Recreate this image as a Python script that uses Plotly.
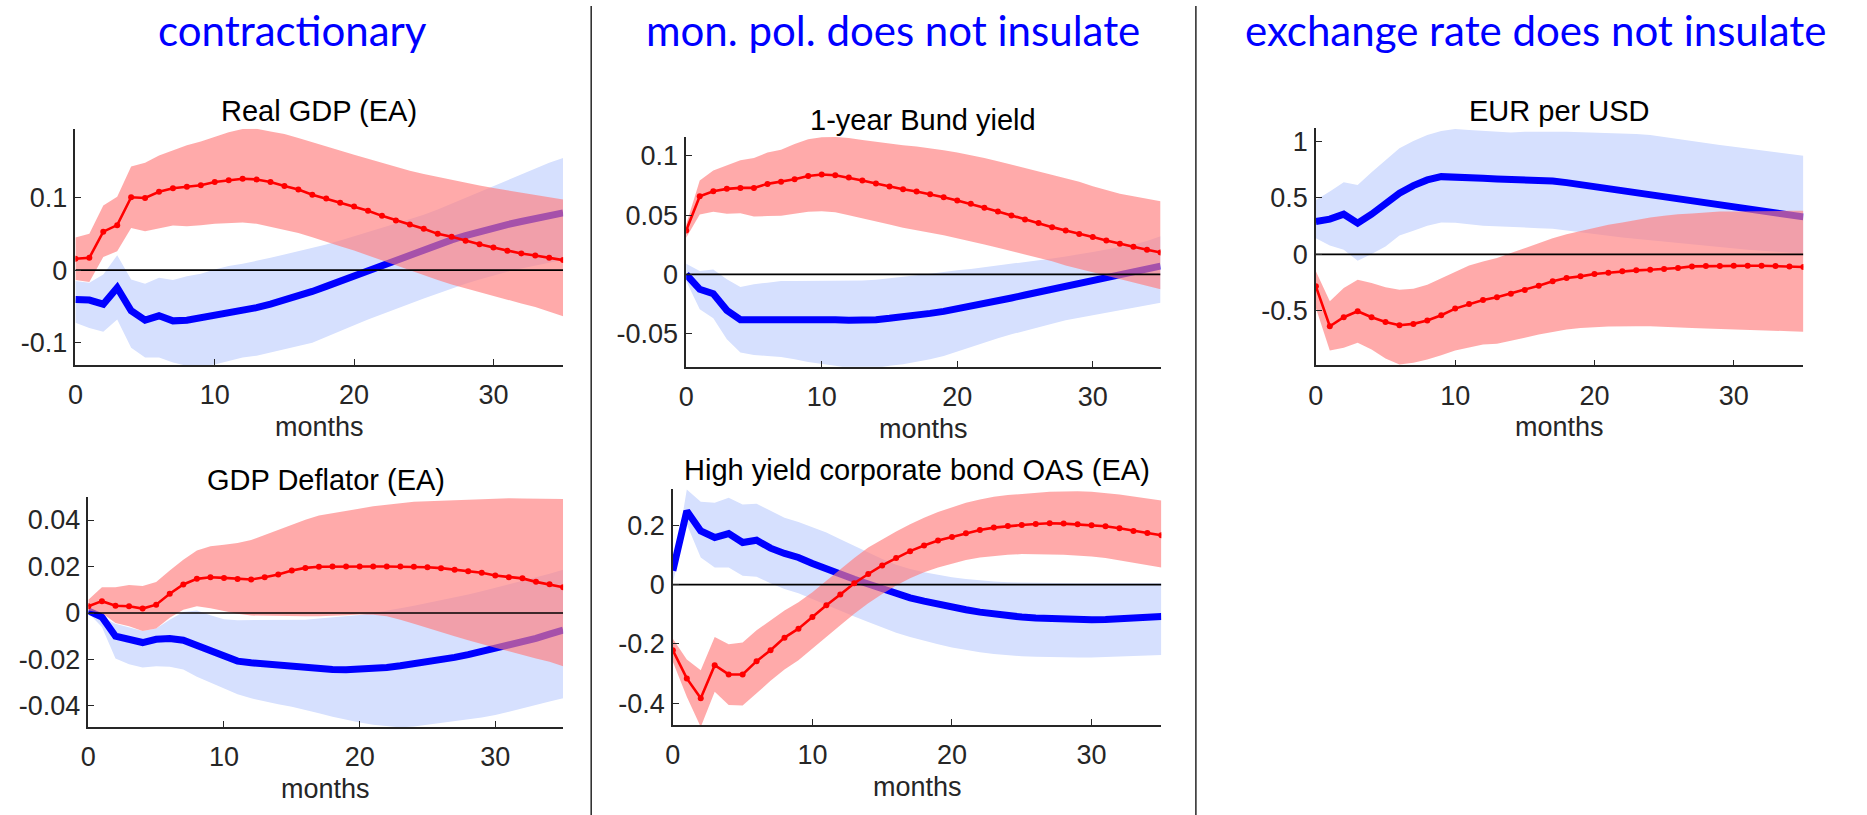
import plotly.graph_objects as go

W, H = 1867, 815
months = list(range(36))

# ---------------- Real GDP (EA) ----------------
gdp_red = [0.0156, 0.017, 0.053, 0.062, 0.1005, 0.0995, 0.108, 0.113, 0.115, 0.117, 0.1216, 0.124,
           0.126, 0.125, 0.1216, 0.116, 0.111, 0.104, 0.0986, 0.093, 0.0876, 0.0817, 0.0748, 0.0683,
           0.0628, 0.0569, 0.05, 0.0459, 0.0404, 0.0358, 0.0312, 0.0266, 0.0229, 0.0202, 0.017, 0.0138]
gdp_red_hi = [0.045, 0.05, 0.089, 0.101, 0.143, 0.148, 0.158, 0.165, 0.172, 0.1775, 0.184, 0.19,
              0.1945, 0.195, 0.191, 0.1876, 0.182, 0.176, 0.1706, 0.1647, 0.159, 0.1537, 0.148, 0.1427,
              0.137, 0.1326, 0.1284, 0.124, 0.120, 0.1165, 0.1133, 0.110, 0.107, 0.104, 0.101, 0.0972]
gdp_red_lo = [-0.0138, -0.0165, 0.018, 0.026, 0.058, 0.0537, 0.0573, 0.0615, 0.0606, 0.062, 0.0638, 0.065,
              0.0656, 0.0638, 0.060, 0.0555, 0.051, 0.0454, 0.0394, 0.033, 0.027, 0.0202, 0.0138, 0.0069,
              0.0005, -0.0069, -0.0138, -0.020, -0.026, -0.031, -0.0358, -0.041, -0.046, -0.051, -0.057, -0.0638]
gdp_blue = [-0.0404, -0.0413, -0.047, -0.0243, -0.056, -0.069, -0.063, -0.070, -0.069, -0.0656, -0.063, -0.060,
            -0.0564, -0.0518, -0.047, -0.0417, -0.0358, -0.0294, -0.0225, -0.0151, -0.0078, -0.0005, 0.0069, 0.0142,
            0.022, 0.0289, 0.0353, 0.0417, 0.0477, 0.0532, 0.0583, 0.0628, 0.067, 0.0711, 0.0748, 0.0789]
gdp_blue_hi = [-0.0151, -0.0174, -0.006, 0.0206, -0.0128, -0.0188, -0.0106, -0.0138, -0.0083, -0.005, 0.0009, 0.0055,
               0.0087, 0.0124, 0.017, 0.0216, 0.026, 0.0307, 0.0353, 0.0408, 0.0463, 0.0523, 0.0583, 0.0642,
               0.0697, 0.0762, 0.0835, 0.0915, 0.0995, 0.1078, 0.1156, 0.124, 0.132, 0.140, 0.148, 0.1546]
gdp_blue_lo = [-0.0725, -0.080, -0.0849, -0.068, -0.107, -0.1206, -0.1206, -0.1275, -0.132, -0.133, -0.13, -0.125,
               -0.1206, -0.118, -0.1138, -0.109, -0.1046, -0.100, -0.0922, -0.084, -0.076, -0.068, -0.060, -0.0532,
               -0.0463, -0.039, -0.0317, -0.0252, -0.0188, -0.0128, -0.0073, -0.0023, 0.0023, 0.0064, 0.0101, 0.0138]

# ---------------- GDP Deflator (EA) ----------------
defl_red = [0.0029, 0.0051, 0.0031, 0.0029, 0.0019, 0.0036, 0.0083, 0.0123, 0.0147, 0.0154, 0.0151, 0.0146,
            0.0144, 0.0154, 0.0166, 0.0183, 0.0194, 0.0199, 0.020, 0.020, 0.020, 0.020, 0.020, 0.020,
            0.0199, 0.0197, 0.0193, 0.0186, 0.018, 0.0173, 0.0161, 0.0154, 0.0149, 0.0134, 0.0124, 0.0111]
defl_red_hi = [0.0057, 0.0111, 0.0111, 0.0121, 0.0116, 0.0133, 0.0183, 0.0229, 0.0269, 0.0287, 0.0294, 0.0301,
               0.0314, 0.0336, 0.0357, 0.0379, 0.0401, 0.0419, 0.0429, 0.044, 0.045, 0.0459, 0.0466, 0.0474,
               0.0479, 0.0481, 0.0483, 0.0486, 0.0489, 0.049, 0.049, 0.0494, 0.0493, 0.0492, 0.0492, 0.049]
defl_red_lo = [0.0011, 0.0, -0.0043, -0.0057, -0.0077, -0.0067, -0.002, 0.0014, 0.0029, 0.0021, 0.0009, -0.0003,
               -0.0011, -0.0014, -0.0014, -0.0014, -0.0014, -0.0014, -0.0013, -0.001, -0.0006, -0.0007, -0.0014, -0.0029,
               -0.0046, -0.0064, -0.0081, -0.010, -0.0117, -0.0134, -0.0149, -0.0164, -0.0179, -0.0196, -0.021, -0.0229]
defl_blue = [0.0009, -0.0017, -0.010, -0.0117, -0.0127, -0.0113, -0.011, -0.0117, -0.0139, -0.0167, -0.0189, -0.0207,
             -0.0214, -0.022, -0.0224, -0.0229, -0.0233, -0.0239, -0.0243, -0.0244, -0.0243, -0.024, -0.0234, -0.0227,
             -0.0219, -0.021, -0.0201, -0.0191, -0.0179, -0.0166, -0.0153, -0.0139, -0.0124, -0.0109, -0.0091, -0.0074]
defl_blue_hi = [0.0019, -0.0017, -0.0046, -0.006, -0.0077, -0.0067, -0.0029, 0.0004, 0.0011, -0.001, -0.0027, -0.0031,
                -0.0031, -0.0031, -0.0031, -0.0031, -0.0029, -0.0024, -0.002, -0.0014, -0.0009, 0.0, 0.0009, 0.002,
                0.0031, 0.0043, 0.0054, 0.0066, 0.008, 0.0094, 0.0109, 0.0123, 0.0137, 0.0151, 0.0169, 0.0186]
defl_blue_lo = [0.0, -0.006, -0.0196, -0.022, -0.0234, -0.0229, -0.0231, -0.0243, -0.0274, -0.030, -0.0324, -0.0349,
                -0.0367, -0.0381, -0.0393, -0.0403, -0.0417, -0.0431, -0.0446, -0.046, -0.0471, -0.0481, -0.0486, -0.0492,
                -0.0488, -0.0481, -0.0474, -0.0467, -0.0457, -0.0449, -0.0439, -0.0424, -0.041, -0.0396, -0.0381, -0.0367]

# ---------------- 1-year Bund yield ----------------
bund_red = [0.0371, 0.066, 0.0702, 0.0722, 0.073, 0.073, 0.0764, 0.0781, 0.0803, 0.0831, 0.0843, 0.0837,
            0.0817, 0.0792, 0.0767, 0.0742, 0.0719, 0.0699, 0.0677, 0.0652, 0.0624, 0.0596, 0.0562, 0.0531,
            0.0497, 0.0463, 0.0433, 0.0399, 0.0371, 0.034, 0.0315, 0.0287, 0.0258, 0.0233, 0.0208, 0.0185]
bund_red_hi = [0.0421, 0.0792, 0.0876, 0.0921, 0.0963, 0.0983, 0.1028, 0.1053, 0.1101, 0.114, 0.1157, 0.116,
               0.1152, 0.1135, 0.1118, 0.1101, 0.109, 0.1079, 0.1065, 0.1048, 0.1028, 0.1006, 0.0983, 0.0955,
               0.0927, 0.0899, 0.0871, 0.0843, 0.0815, 0.0781, 0.0744, 0.0711, 0.068, 0.066, 0.064, 0.0618]
bund_red_lo = [0.0309, 0.0506, 0.0528, 0.0511, 0.0517, 0.0489, 0.0492, 0.0494, 0.0511, 0.0528, 0.0534, 0.0525,
               0.050, 0.0478, 0.0449, 0.0421, 0.0393, 0.0371, 0.0351, 0.0331, 0.0309, 0.0281, 0.0253, 0.0225,
               0.0197, 0.0169, 0.014, 0.011, 0.0076, 0.0045, 0.0014, -0.0014, -0.0042, -0.007, -0.0098, -0.0126]
bund_blue = [0.0, -0.0126, -0.0163, -0.0303, -0.0382, -0.0382, -0.0371, -0.0371, -0.0371, -0.0376, -0.0382, -0.0382,
             -0.0388, -0.0388, -0.0382, -0.0371, -0.036, -0.0346, -0.0329, -0.0312, -0.0292, -0.027, -0.0247, -0.0225,
             -0.0199, -0.0174, -0.0149, -0.0126, -0.0104, -0.0079, -0.0051, -0.0022, 0.0006, 0.0028, 0.0048, 0.007]
bund_blue_hi = [0.009, 0.0028, 0.0042, -0.0042, -0.0107, -0.0084, -0.007, -0.0056, -0.0056, -0.0056, -0.0056, -0.0056,
                -0.0056, -0.0051, -0.0045, -0.0034, -0.0022, -0.0008, 0.0006, 0.0022, 0.0034, 0.0045, 0.0059, 0.0073,
                0.0087, 0.0101, 0.0118, 0.0135, 0.0152, 0.0169, 0.0188, 0.0211, 0.023, 0.0253, 0.0281, 0.0323]
bund_blue_lo = [-0.0056, -0.0295, -0.0371, -0.0548, -0.066, -0.068, -0.0688, -0.0697, -0.0716, -0.0739, -0.0758, -0.0772,
                -0.079, -0.0795, -0.079, -0.0772, -0.0758, -0.0739, -0.0716, -0.0688, -0.0652, -0.0612, -0.0576, -0.0539,
                -0.0506, -0.0472, -0.0444, -0.0416, -0.0388, -0.0365, -0.0343, -0.0323, -0.0303, -0.0281, -0.0258, -0.0239]

# ---------------- High yield corporate bond OAS (EA) ----------------
hy_red = [-0.2212, -0.3162, -0.3832, -0.2715, -0.3028, -0.3028, -0.2581, -0.2212, -0.1788, -0.1486, -0.1095, -0.0693,
          -0.0335, 0.0045, 0.0358, 0.0648, 0.0894, 0.1128, 0.1318, 0.1486, 0.1609, 0.1732, 0.1844, 0.1922,
          0.1978, 0.2011, 0.2045, 0.2067, 0.2056, 0.2034, 0.200, 0.1966, 0.1899, 0.181, 0.1743, 0.1665]
hy_red_hi = [-0.1821, -0.2525, -0.2883, -0.1765, -0.2011, -0.1955, -0.1542, -0.1207, -0.0872, -0.0592, -0.0257, 0.0134,
             0.0525, 0.0894, 0.1251, 0.1531, 0.1788, 0.2034, 0.2257, 0.2447, 0.2615, 0.276, 0.2872, 0.2961,
             0.3017, 0.3061, 0.3095, 0.3128, 0.314, 0.3151, 0.3128, 0.3095, 0.3039, 0.2972, 0.2905, 0.2838]
hy_red_lo = [-0.2603, -0.3777, -0.48, -0.3609, -0.4056, -0.4078, -0.3665, -0.324, -0.286, -0.2547, -0.2156, -0.1765,
             -0.1374, -0.0983, -0.0626, -0.0313, -0.0034, 0.0212, 0.0413, 0.0581, 0.0715, 0.0827, 0.0916, 0.0972,
             0.1006, 0.1028, 0.1028, 0.1017, 0.1006, 0.0983, 0.095, 0.0894, 0.0827, 0.0749, 0.0659, 0.0581]
hy_blue = [0.0469, 0.248, 0.181, 0.1587, 0.1721, 0.1419, 0.1497, 0.1229, 0.105, 0.0916, 0.0715, 0.0525,
           0.0358, 0.0179, 0.0022, -0.0145, -0.0313, -0.0447, -0.0559, -0.067, -0.076, -0.0849, -0.0927, -0.0994,
           -0.105, -0.1095, -0.1128, -0.1151, -0.1173, -0.1184, -0.1184, -0.1173, -0.1162, -0.114, -0.1117, -0.1073]
hy_blue_hi = [0.0358, 0.3207, 0.2793, 0.276, 0.2927, 0.2704, 0.2726, 0.248, 0.2257, 0.2112, 0.1944, 0.1754,
              0.1531, 0.1307, 0.1084, 0.086, 0.067, 0.0525, 0.0413, 0.0324, 0.0246, 0.019, 0.0134, 0.0101,
              0.0078, 0.0067, 0.0056, 0.0056, 0.0045, 0.0045, 0.0045, 0.0045, 0.0045, 0.0045, 0.0045, 0.0045]
hy_blue_lo = [0.0078, 0.2034, 0.0916, 0.0581, 0.0581, 0.0302, 0.0268, 0.0045, -0.0145, -0.0291, -0.048, -0.067,
              -0.0872, -0.1073, -0.1263, -0.1453, -0.162, -0.1765, -0.190, -0.2011, -0.2123, -0.2212, -0.2279, -0.2335,
              -0.238, -0.2413, -0.2436, -0.2447, -0.2458, -0.2458, -0.2458, -0.2447, -0.2436, -0.2413, -0.2391, -0.2369]

# ---------------- EUR per USD ----------------
fx_red = [-0.2824, -0.6353, -0.5559, -0.5029, -0.5559, -0.5971, -0.6265, -0.6147, -0.5853, -0.5382, -0.4794, -0.4382,
          -0.4029, -0.3794, -0.3471, -0.3147, -0.2765, -0.2382, -0.2088, -0.1941, -0.1735, -0.1618, -0.150, -0.1412,
          -0.1353, -0.1294, -0.1206, -0.1059, -0.1029, -0.1029, -0.100, -0.100, -0.100, -0.1029, -0.1059, -0.1118]
fx_red_hi = [-0.150, -0.4147, -0.2971, -0.2235, -0.2529, -0.2912, -0.3118, -0.3029, -0.2676, -0.2088, -0.150, -0.0971,
             -0.0618, -0.0324, 0.0118, 0.0559, 0.100, 0.1441, 0.1794, 0.2088, 0.2382, 0.2618, 0.2824, 0.3059,
             0.3265, 0.3412, 0.3559, 0.3618, 0.3706, 0.3794, 0.3794, 0.3824, 0.3853, 0.3853, 0.3853, 0.3853]
fx_red_lo = [-0.4735, -0.850, -0.8265, -0.7824, -0.8412, -0.9206, -0.9735, -0.9588, -0.9294, -0.8912, -0.850, -0.8206,
             -0.7971, -0.7912, -0.7676, -0.7382, -0.7088, -0.6853, -0.6647, -0.650, -0.6441, -0.6382, -0.6353, -0.6353,
             -0.6353, -0.6382, -0.6441, -0.650, -0.6559, -0.6618, -0.6647, -0.6676, -0.6735, -0.6765, -0.6794, -0.6853]
fx_blue = [0.2912, 0.3118, 0.3559, 0.2765, 0.3559, 0.4441, 0.5412, 0.6088, 0.6588, 0.6882, 0.6882, 0.6824,
           0.6735, 0.6676, 0.6647, 0.6588, 0.6529, 0.650, 0.6353, 0.6176, 0.6029, 0.5882, 0.5706, 0.550,
           0.5324, 0.5147, 0.4971, 0.4765, 0.4559, 0.4353, 0.4176, 0.4088, 0.3971, 0.3794, 0.3559, 0.3324]
fx_blue_hi = [0.4824, 0.5559, 0.6382, 0.6147, 0.7265, 0.8353, 0.9382, 1.0029, 1.0559, 1.0912, 1.1088, 1.100,
              1.0912, 1.0853, 1.0794, 1.0853, 1.0882, 1.0853, 1.0853, 1.0824, 1.0794, 1.0735, 1.0706, 1.0647,
              1.0559, 1.0412, 1.0206, 1.0029, 0.9824, 0.9676, 0.9529, 0.9382, 0.9235, 0.9088, 0.8882, 0.8735]
fx_blue_lo = [0.1441, 0.0794, 0.0412, -0.0559, 0.0029, 0.0706, 0.1676, 0.2088, 0.2529, 0.2824, 0.2794, 0.2676,
              0.2529, 0.2441, 0.2412, 0.2382, 0.2324, 0.2265, 0.2147, 0.1971, 0.1794, 0.1647, 0.150, 0.1353,
              0.1206, 0.1088, 0.0971, 0.0853, 0.0735, 0.0618, 0.0529, 0.0412, 0.0324, 0.0235, 0.0147, 0.0088]

titles = ["Real GDP (EA)", "GDP Deflator (EA)", "1-year Bund yield",
          "High yield corporate bond OAS (EA)", "EUR per USD"]
headers = ["contractionary", "mon. pol. does not insulate", "exchange rate does not insulate"]
x_ticks = [0, 10, 20, 30]
y_ticks = [[-0.1, 0, 0.1], [-0.04, -0.02, 0, 0.02, 0.04], [-0.05, 0, 0.05, 0.1],
           [-0.4, -0.2, 0, 0.2], [-0.5, 0, 0.5, 1]]
y_tick_text = [["-0.1", "0", "0.1"], ["-0.04", "-0.02", "0", "0.02", "0.04"],
               ["-0.05", "0", "0.05", "0.1"], ["-0.4", "-0.2", "0", "0.2"], ["-0.5", "0", "0.5", "1"]]
y_ranges = [[-0.131, 0.195], [-0.049, 0.050], [-0.078, 0.116], [-0.474, 0.324], [-0.982, 1.115]]

panels = [
    (gdp_red, gdp_red_lo, gdp_red_hi, gdp_blue, gdp_blue_lo, gdp_blue_hi),
    (defl_red, defl_red_lo, defl_red_hi, defl_blue, defl_blue_lo, defl_blue_hi),
    (bund_red, bund_red_lo, bund_red_hi, bund_blue, bund_blue_lo, bund_blue_hi),
    (hy_red, hy_red_lo, hy_red_hi, hy_blue, hy_blue_lo, hy_blue_hi),
    (fx_red, fx_red_lo, fx_red_hi, fx_blue, fx_blue_lo, fx_blue_hi),
]

# layout boxes in pixels: (left, right, top, bottom)
boxes = [(67.7, 557.5, 127, 364), (80.7, 557.5, 496, 726.7), (681.1, 1157.5, 135.3, 365.7),
         (667.7, 1158.3, 487.7, 725), (1313.5, 1803.1, 126.7, 364.3)]
title_y = [109, 479, 118.5, 469.5, 109]
months_y = [426, 789, 428, 787, 426]


def px(x):
    return x / W


def py(y):
    return 1 - y / H


RED = "#FF0000"
BLUE = "#0000FF"
RED_BAND = "rgba(255,125,125,0.65)"
BLUE_BAND = "#D6E0FE"
AX = "#262626"
FONT = "Liberation Sans, Arial, sans-serif"
TICKFONT = dict(family=FONT, size=27, color=AX)

fig = go.Figure()
layout = dict(width=W, height=H, margin=dict(l=0, r=0, t=0, b=0),
              paper_bgcolor="white", plot_bgcolor="white", showlegend=False)
annotations = []

for i, (data, box) in enumerate(zip(panels, boxes)):
    red, red_lo, red_hi, blue, blue_lo, blue_hi = data
    n = i + 1
    xa = "x" if n == 1 else f"x{n}"
    ya = "y" if n == 1 else f"y{n}"
    l, r, t, b = box
    fig.add_trace(go.Scatter(x=months + months[::-1], y=blue_hi + blue_lo[::-1], fill="toself",
                             fillcolor=BLUE_BAND, line=dict(width=0), mode="lines",
                             hoverinfo="skip", xaxis=xa, yaxis=ya))
    fig.add_trace(go.Scatter(x=months, y=blue, mode="lines", line=dict(color=BLUE, width=7),
                             xaxis=xa, yaxis=ya))
    fig.add_trace(go.Scatter(x=months + months[::-1], y=red_hi + red_lo[::-1], fill="toself",
                             fillcolor=RED_BAND, line=dict(width=0), mode="lines",
                             hoverinfo="skip", xaxis=xa, yaxis=ya))
    fig.add_trace(go.Scatter(x=[months[0], months[-1]], y=[0, 0], mode="lines",
                             line=dict(color="black", width=1.6), xaxis=xa, yaxis=ya))
    fig.add_trace(go.Scatter(x=months, y=red, mode="lines+markers",
                             line=dict(color=RED, width=2.6), marker=dict(color=RED, size=6),
                             xaxis=xa, yaxis=ya))

    xkey = "xaxis" if n == 1 else f"xaxis{n}"
    ykey = "yaxis" if n == 1 else f"yaxis{n}"
    layout[xkey] = dict(domain=[px(l), px(r)], anchor=ya, range=[0, 35], tickvals=x_ticks,
                        ticktext=[str(v) for v in x_ticks], showgrid=False, zeroline=False,
                        showline=True, linecolor=AX, linewidth=1.5, ticks="inside", ticklen=6,
                        tickwidth=1.3, tickcolor=AX, tickfont=TICKFONT, ticklabelstandoff=5)
    layout[ykey] = dict(domain=[py(b), py(t)], anchor=xa, range=y_ranges[i], tickvals=y_ticks[i],
                        ticktext=y_tick_text[i], showgrid=False, zeroline=False,
                        showline=True, linecolor=AX, linewidth=1.5, ticks="inside", ticklen=6,
                        tickwidth=1.3, tickcolor=AX, tickfont=TICKFONT, ticklabelstandoff=1)
    annotations.append(dict(text=titles[i], x=px((l + r) / 2), y=py(title_y[i]), xref="paper", yref="paper",
                            showarrow=False, xanchor="center", yanchor="middle",
                            font=dict(family=FONT, size=29, color="black")))
    annotations.append(dict(text="months", x=px((l + r) / 2), y=py(months_y[i]), xref="paper", yref="paper",
                            showarrow=False, xanchor="center", yanchor="middle",
                            font=dict(family=FONT, size=27, color=AX)))

header_x = [286, 889, 1534]
for hx, htxt in zip(header_x, headers):
    annotations.append(dict(text=htxt, x=px(hx), y=py(28), xref="paper", yref="paper", showarrow=False,
                            xanchor="center", yanchor="middle",
                            font=dict(family="Lato, Open Sans, sans-serif", size=42, color=BLUE)))

shapes = []
for sx in [585.7, 1193]:
    shapes.append(dict(type="line", xref="paper", yref="paper", x0=px(sx), x1=px(sx), y0=py(4), y1=0,
                       line=dict(color=AX, width=1.5)))

layout["annotations"] = annotations
layout["shapes"] = shapes
fig.update_layout(**layout)
fig.write_html("out.html", config={"displayModeBar": False},
               post_script="document.body.style.margin='0';document.body.style.overflow='hidden';")
